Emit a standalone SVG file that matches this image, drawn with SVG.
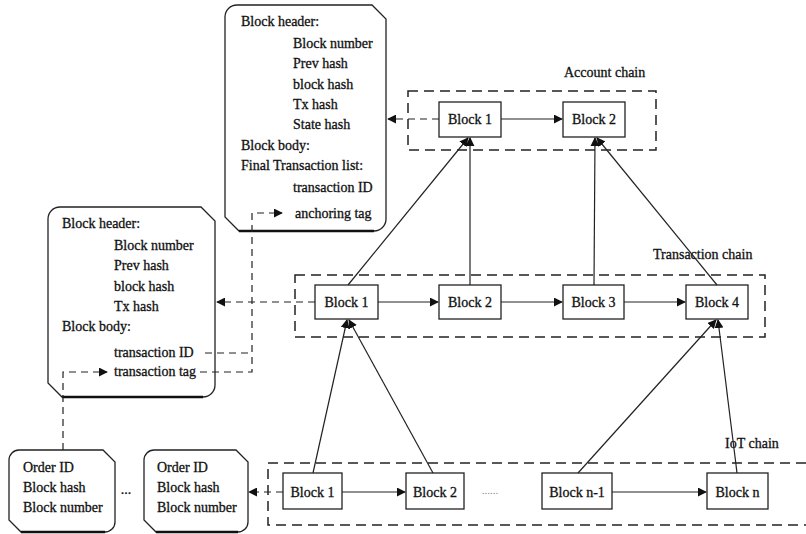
<svg xmlns="http://www.w3.org/2000/svg" width="806" height="534" viewBox="0 0 806 534">
  <defs>
    <marker id="arrow" viewBox="0 0 10 10" refX="9" refY="5" markerWidth="9" markerHeight="9" markerUnits="userSpaceOnUse" orient="auto">
      <path d="M0,0 L10,5 L0,10 Z" fill="#111"/>
    </marker>
    <style>
      text { font-family: "Liberation Serif", "Times New Roman", serif; font-size: 14px; fill: #111; stroke: #111; stroke-width: 0.3; }
      .mid { text-anchor: middle; }
      .block { fill: #fff; stroke: #222; stroke-width: 1.3; }
      .info { fill: #fff; stroke: #222; stroke-width: 1.3; }
      .shadow { fill: none; stroke: #111; stroke-width: 2.6; }
      .chain { fill: none; stroke: #222; stroke-width: 1.5; stroke-dasharray: 10 6; }
      .link { fill: none; stroke: #222; stroke-width: 1.2; marker-end: url(#arrow); }
      .ref { fill: none; stroke: #222; stroke-width: 1.2; stroke-dasharray: 7 5; }
      .refa { fill: none; stroke: #222; stroke-width: 1.2; stroke-dasharray: 7 5; marker-end: url(#arrow); }
    </style>
  </defs>

  <rect width="806" height="534" fill="#fff"/>

  <!-- chain containers -->
  <g id="account-chain">
    <rect class="chain" x="408" y="91" width="248" height="59"/>
    <text x="564" y="77">Account chain</text>
  </g>
  <g id="transaction-chain">
    <rect class="chain" x="295" y="275" width="470" height="62"/>
    <text x="653" y="259">Transaction chain</text>
  </g>
  <g id="iot-chain">
    <path class="chain" d="M806,463 H268 V525 H806"/>
    <text x="725" y="448">IoT chain</text>
  </g>

  <!-- account block info -->
  <g id="account-block-info">
    <path class="info" d="M237,5 H372 L386,19 V219 A12,12 0 0 1 374,231 H239 L225,217 V17 A12,12 0 0 1 237,5 Z"/>
    <path class="shadow" d="M239,231 H374"/>
    <text x="241" y="26">Block header:</text>
    <text x="293" y="48">Block number</text>
    <text x="293" y="68">Prev hash</text>
    <text x="293" y="89">block hash</text>
    <text x="293" y="109">Tx hash</text>
    <text x="293" y="129">State hash</text>
    <text x="241" y="150">Block body:</text>
    <text x="241" y="170">Final Transaction list:</text>
    <text x="293" y="192">transaction ID</text>
    <text x="295" y="218">anchoring tag</text>
  </g>

  <!-- transaction block info -->
  <g id="transaction-block-info">
    <path class="info" d="M60,207 H201 L215,221 V385 A12,12 0 0 1 203,397 H62 L48,383 V219 A12,12 0 0 1 60,207 Z"/>
    <path class="shadow" d="M62,397 H203"/>
    <text x="62" y="228">Block header:</text>
    <text x="114" y="250">Block number</text>
    <text x="114" y="270">Prev hash</text>
    <text x="114" y="291">block hash</text>
    <text x="114" y="311">Tx hash</text>
    <text x="62" y="331">Block body:</text>
    <text x="114" y="357">transaction ID</text>
    <text x="114" y="376">transaction tag</text>
  </g>

  <!-- iot order records -->
  <g id="order-record-1">
    <path class="info" d="M19,450 H103 L115,462 V522 A10,10 0 0 1 105,532 H21 L9,520 V460 A10,10 0 0 1 19,450 Z"/>
    <path class="shadow" d="M21,532 H105"/>
    <text x="23" y="472">Order ID</text>
    <text x="23" y="492">Block hash</text>
    <text x="23" y="512">Block number</text>
  </g>
  <g id="order-ellipsis">
    <text class="mid" x="126" y="494">...</text>
  </g>
  <g id="order-record-n">
    <path class="info" d="M154,450 H236 L248,462 V522 A10,10 0 0 1 238,532 H156 L144,520 V460 A10,10 0 0 1 154,450 Z"/>
    <path class="shadow" d="M156,532 H238"/>
    <text x="157" y="472">Order ID</text>
    <text x="157" y="492">Block hash</text>
    <text x="157" y="512">Block number</text>
  </g>

  <!-- account chain blocks -->
  <g id="account-block-1">
    <rect class="block" x="439" y="102" width="62" height="35"/>
    <text class="mid" x="470" y="124">Block 1</text>
  </g>
  <g id="account-block-2">
    <rect class="block" x="563" y="102" width="62" height="35"/>
    <text class="mid" x="594" y="124">Block 2</text>
  </g>

  <!-- transaction chain blocks -->
  <g id="tx-block-1">
    <rect class="block" x="315" y="285" width="63" height="34"/>
    <text class="mid" x="346.5" y="307">Block 1</text>
  </g>
  <g id="tx-block-2">
    <rect class="block" x="439" y="285" width="62" height="34"/>
    <text class="mid" x="470" y="307">Block 2</text>
  </g>
  <g id="tx-block-3">
    <rect class="block" x="563" y="285" width="61" height="34"/>
    <text class="mid" x="593.5" y="307">Block 3</text>
  </g>
  <g id="tx-block-4">
    <rect class="block" x="686" y="285" width="62" height="34"/>
    <text class="mid" x="717" y="307">Block 4</text>
  </g>

  <!-- iot chain blocks -->
  <g id="iot-block-1">
    <rect class="block" x="283" y="473" width="59" height="36"/>
    <text class="mid" x="312.5" y="497">Block 1</text>
  </g>
  <g id="iot-block-2">
    <rect class="block" x="406" y="473" width="58" height="36"/>
    <text class="mid" x="435" y="497">Block 2</text>
  </g>
  <g id="iot-gap">
    <text class="mid" x="490" y="494" style="fill:#888; stroke:none; font-size:11px">......</text>
  </g>
  <g id="iot-block-n-1">
    <rect class="block" x="542" y="473" width="70" height="36"/>
    <text class="mid" x="577" y="497">Block n-1</text>
  </g>
  <g id="iot-block-n">
    <rect class="block" x="707" y="473" width="61" height="36"/>
    <text class="mid" x="737.5" y="497">Block n</text>
  </g>

  <!-- connectors -->
  <g id="connectors">
    <!-- account chain -->
    <path class="link" d="M501,119 H562"/>
    <path class="refa" d="M439,119 H388"/>
    <!-- transaction chain -->
    <path class="link" d="M378,302 H438"/>
    <path class="link" d="M501,302 H562"/>
    <path class="link" d="M624,302 H685"/>
    <path class="refa" d="M315,302 H217"/>
    <!-- iot chain -->
    <path class="link" d="M342,492 H405"/>
    <path class="link" d="M612,492 H706"/>
    <path class="refa" d="M283,492 H249"/>
    <!-- transaction -> account anchoring -->
    <path class="link" d="M348,285 L468,138"/>
    <path class="link" d="M470,285 L470,138"/>
    <path class="link" d="M594,285 L595,138"/>
    <path class="link" d="M717,285 L597,138"/>
    <!-- iot -> transaction anchoring -->
    <path class="link" d="M313,473 L347,320"/>
    <path class="link" d="M433,473 L349,320"/>
    <path class="link" d="M578,473 L716,320"/>
    <path class="link" d="M737,473 L718,320"/>
    <!-- field references between info boxes -->
    <path class="ref" d="M205,353 H252"/>
    <path class="refa" d="M200,372 H252 V213 H282"/>
    <path class="refa" d="M63,450 V372 H107"/>
  </g>
</svg>
